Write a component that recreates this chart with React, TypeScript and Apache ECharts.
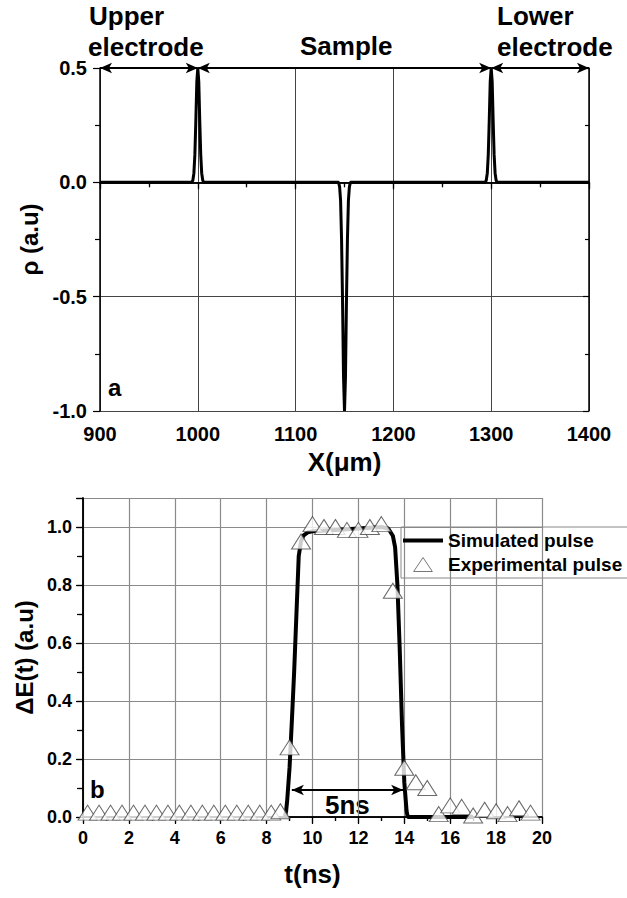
import React, { useEffect, useRef } from "react";
import * as echarts from "echarts";

// Panel (a): charge density profile
const rhoX = [900, 994, 995, 996, 997, 998, 999, 1000, 1001, 1002, 1003, 1004, 1005, 1006,
  1144, 1145, 1146, 1147, 1148, 1149, 1150, 1151, 1152, 1153, 1154, 1155, 1156,
  1294, 1295, 1296, 1297, 1298, 1299, 1300, 1301, 1302, 1303, 1304, 1305, 1306, 1400];
const rhoY = [0, 0, 0.01, 0.04, 0.12, 0.27, 0.44, 0.5, 0.44, 0.27, 0.12, 0.04, 0.01, 0,
  0, -0.02, -0.08, -0.25, -0.52, -0.85, -1.0, -0.85, -0.52, -0.25, -0.08, -0.02, 0,
  0, 0.01, 0.04, 0.12, 0.27, 0.44, 0.5, 0.44, 0.27, 0.12, 0.04, 0.01, 0, 0];

// Region boundaries (µm) for the double arrows on top of panel (a)
const regionBounds = [900, 1000, 1300, 1400];

// Panel (b): simulated pulse
const simT = [8.8, 8.85, 8.9, 9.0, 9.1, 9.2, 9.3, 9.4, 9.5, 9.6, 9.8, 10, 11, 12, 13, 13.3, 13.5,
  13.6, 13.7, 13.8, 13.9, 14.0, 14.1, 14.15, 15, 16, 17];
const simE = [0, 0.02, 0.06, 0.17, 0.33, 0.5, 0.7, 0.9, 0.95, 0.97, 0.982, 0.985, 0.99, 0.995, 1.0, 0.995, 0.97,
  0.93, 0.8, 0.58, 0.32, 0.12, 0.02, 0, 0, 0, 0];

// Panel (b): experimental pulse
const expT = [0.2, 0.7, 1.2, 1.7, 2.2, 2.7, 3.2, 3.7, 4.2, 4.7, 5.2, 5.7, 6.2, 6.7, 7.2, 7.7, 8.2, 8.6,
  9.0, 9.5, 10.0, 10.5, 11.0, 11.5, 12.0, 12.5, 13.0, 13.5, 14.0, 14.5, 15.0, 15.5,
  16.0, 16.5, 17.0, 17.5, 18.0, 18.5, 19.0, 19.5];
const expE = [0.015, 0.015, 0.015, 0.015, 0.015, 0.015, 0.015, 0.015, 0.015, 0.015, 0.015, 0.015, 0.015, 0.015, 0.015, 0.015, 0.015, 0.02,
  0.24, 0.95, 1.01, 1.0, 1.0, 0.99, 0.99, 1.0, 1.01, 0.78, 0.17, 0.12, 0.1, 0.01,
  0.04, 0.035, 0.005, 0.025, 0.02, 0.01, 0.03, 0.015];

// "5ns" arrow ends
const pulseArrowT = [9.1, 13.95];
const pulseArrowE = 0.093;

const FONT = "'Liberation Sans', Arial, sans-serif";

export default function App() {
  const ref = useRef<HTMLDivElement>(null);
  useEffect(() => {
    if (!ref.current) return;
    const chart = echarts.init(ref.current, undefined, { renderer: "svg" });

    const axisLine = { show: true, lineStyle: { color: "#000", width: 1.5 } };
    const labelA = { color: "#000", fontFamily: FONT, fontWeight: "bold" as const, fontSize: 20 };
    const labelB = { color: "#000", fontFamily: FONT, fontWeight: "bold" as const, fontSize: 18 };
    const nameStyle = { color: "#000", fontFamily: FONT, fontWeight: "bold" as const, fontSize: 26 };
    const tickStyle = { color: "#000", width: 1.2 };

    const regionArrows = [] as any[];
    for (let i = 0; i < regionBounds.length - 1; i++) {
      regionArrows.push([{ coord: [regionBounds[i], 0.5] }, { coord: [regionBounds[i + 1], 0.5] }]);
    }

    const option: any = {
      animation: false,
      backgroundColor: "#fff",
      grid: [
        { left: 100, top: 68, width: 489, height: 343 },
        { left: 83, top: 498, width: 459, height: 319 },
      ],
      xAxis: [
        {
          gridIndex: 0, type: "value", min: 900, max: 1400, interval: 100, position: "bottom",
          axisLine, axisTick: { show: true, length: 7, lineStyle: tickStyle },
          minorTick: { show: true, splitNumber: 2, length: 5, lineStyle: tickStyle },
          axisLabel: { ...labelA, margin: 13, formatter: (v: number) => String(v) },
          splitLine: { show: true, lineStyle: { color: "#444", width: 1 } },
          name: "X(μm)", nameLocation: "middle", nameGap: 38, nameTextStyle: nameStyle,
        },
        {
          gridIndex: 0, type: "value", min: 900, max: 1400, interval: 100, position: "top",
          axisLine, axisTick: { show: true, inside: true, length: 6, lineStyle: tickStyle },
          minorTick: { show: true, splitNumber: 2, length: 4, lineStyle: tickStyle },
          axisLabel: { show: false }, splitLine: { show: false },
        },
        {
          gridIndex: 1, type: "value", min: 0, max: 20, interval: 2, position: "bottom",
          axisLine, axisTick: { show: true, length: 7, lineStyle: tickStyle },
          minorTick: { show: true, splitNumber: 2, length: 4, lineStyle: tickStyle },
          axisLabel: { ...labelB, margin: 12, formatter: (v: number) => String(v) },
          splitLine: { show: true, lineStyle: { color: "#8a8a8a", width: 1.2 } },
          name: "t(ns)", nameLocation: "middle", nameGap: 44, nameTextStyle: nameStyle,
        },
        {
          gridIndex: 1, type: "value", min: 0, max: 20, interval: 2, position: "top",
          axisLine, axisTick: { show: true, inside: true, length: 6, lineStyle: tickStyle },
          minorTick: { show: true, splitNumber: 2, length: 4, lineStyle: tickStyle },
          axisLabel: { show: false }, splitLine: { show: false },
        },
      ],
      yAxis: [
        {
          gridIndex: 0, type: "value", min: -1, max: 0.5, interval: 0.5, position: "left",
          axisLine, axisTick: { show: true, length: 7, lineStyle: tickStyle },
          minorTick: { show: true, splitNumber: 2, length: 5, lineStyle: tickStyle },
          axisLabel: { ...labelA, margin: 13, formatter: (v: number) => v.toFixed(1) },
          splitLine: { show: true, lineStyle: { color: "#444", width: 1 } },
          name: "ρ (a.u)", nameLocation: "middle", nameGap: 55, nameRotate: 90,
          nameTextStyle: { ...nameStyle, fontSize: 24 },
        },
        {
          gridIndex: 0, type: "value", min: -1, max: 0.5, interval: 0.5, position: "right",
          axisLine, axisTick: { show: true, inside: true, length: 6, lineStyle: tickStyle },
          minorTick: { show: true, splitNumber: 2, length: 4, lineStyle: tickStyle },
          axisLabel: { show: false }, splitLine: { show: false },
        },
        {
          gridIndex: 1, type: "value", min: 0, max: 1.1, interval: 0.2, position: "left",
          axisLine, axisTick: { show: true, length: 7, lineStyle: tickStyle },
          minorTick: { show: true, splitNumber: 2, length: 4, lineStyle: tickStyle },
          axisLabel: { ...labelB, margin: 11, showMaxLabel: false, formatter: (v: number) => v.toFixed(1) },
          splitLine: { show: true, lineStyle: { color: "#8a8a8a", width: 1.2 } },
          name: "ΔE(t) (a.u)", nameLocation: "middle", nameGap: 40, nameRotate: 90,
          nameTextStyle: { ...nameStyle, fontSize: 24 },
        },
        {
          gridIndex: 1, type: "value", min: 0, max: 1.1, interval: 0.1, position: "right",
          axisLine, axisTick: { show: true, inside: true, length: 6, lineStyle: tickStyle },
          axisLabel: { show: false }, splitLine: { show: false },
        },
      ],
      legend: {
        show: true,
        orient: "vertical",
        left: 401,
        top: 527,
        itemWidth: 40,
        itemHeight: 14,
        itemGap: 5,
        padding: [4, 12, 4, 2],
        borderColor: "#888",
        borderWidth: 1,
        backgroundColor: "transparent",
        symbolKeepAspect: true,
        textStyle: { color: "#000", fontFamily: FONT, fontWeight: "bold", fontSize: 19 },
        data: [
          {
            name: "Simulated pulse",
            icon: "path://M0,0 L40,0 L40,4 L0,4 Z",
            itemStyle: { color: "#000", borderWidth: 0 },
          },
          {
            name: "Experimental pulse",
            icon: "path://M10,0 L20,15 L0,15 Z",
            itemStyle: { color: "#fff", borderColor: "#555", borderWidth: 1 },
          },
        ],
      },
      series: [
        {
          name: "rho",
          type: "line",
          xAxisIndex: 0, yAxisIndex: 0,
          data: rhoX.map((x, i) => [x, rhoY[i]]),
          showSymbol: false, symbol: "none",
          clip: false,
          lineStyle: { color: "#000", width: 3 },
          itemStyle: { color: "#000" },
          markLine: {
            silent: true,
            symbol: ["arrow", "arrow"],
            symbolSize: [8, 12],
            label: { show: false },
            lineStyle: { color: "#000", width: 2, type: "solid" },
            data: regionArrows,
          },
          z: 3,
        },
        {
          name: "Simulated pulse",
          type: "line",
          xAxisIndex: 2, yAxisIndex: 2,
          data: simT.map((t, i) => [t, simE[i]]),
          showSymbol: false, symbol: "none",
          clip: false,
          lineStyle: { color: "#000", width: 4 },
          itemStyle: { color: "#000" },
          markLine: {
            silent: true,
            symbol: ["arrow", "arrow"],
            symbolSize: [8, 12],
            label: { show: false },
            lineStyle: { color: "#000", width: 2, type: "solid" },
            data: [[{ coord: [pulseArrowT[0], pulseArrowE] }, { coord: [pulseArrowT[1], pulseArrowE] }]],
          },
          z: 3,
        },
        {
          name: "Experimental pulse",
          type: "scatter",
          xAxisIndex: 2, yAxisIndex: 2,
          data: expT.map((t, i) => [t, expE[i]]),
          symbol: "triangle",
          symbolSize: [19, 15],
          itemStyle: { color: "#fff", borderColor: "#444", borderWidth: 1 },
          z: 4,
        },
      ],
      graphic: [
        { type: "text", left: 89, top: 3, style: { text: "Upper", font: `bold 26px ${FONT}`, fill: "#000" } },
        { type: "text", left: 88, top: 34, style: { text: "electrode", font: `bold 26px ${FONT}`, fill: "#000" } },
        { type: "text", left: 300, top: 33, style: { text: "Sample", font: `bold 26px ${FONT}`, fill: "#000" } },
        { type: "text", left: 497, top: 3, style: { text: "Lower", font: `bold 26px ${FONT}`, fill: "#000" } },
        { type: "text", left: 497, top: 34, style: { text: "electrode", font: `bold 26px ${FONT}`, fill: "#000" } },
        { type: "text", left: 108, top: 375, style: { text: "a", font: `bold 24px ${FONT}`, fill: "#000" } },
        { type: "text", left: 90, top: 777, style: { text: "b", font: `bold 24px ${FONT}`, fill: "#000" } },
        { type: "text", left: 325, top: 792, style: { text: "5ns", font: `bold 26px ${FONT}`, fill: "#000" } },
      ],
    };

    chart.setOption(option);
    return () => chart.dispose();
  }, []);

  return (
    <div
      ref={ref}
      style={{ position: "absolute", left: 0, top: 0, width: 627, height: 898, background: "#fff" }}
    />
  );
}
